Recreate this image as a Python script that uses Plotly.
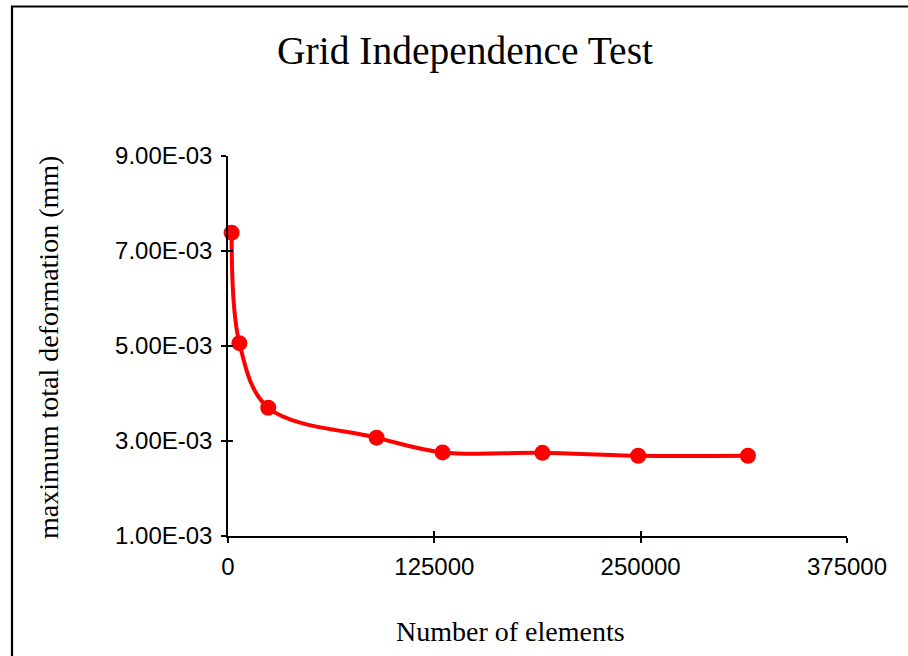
import plotly.graph_objects as go

# Data
elements = [2200, 6900, 24400, 90000, 130000, 190500, 248500, 315000]
max_deformation = [7.385e-3, 5.06e-3, 3.70e-3, 3.07e-3, 2.76e-3, 2.75e-3, 2.69e-3, 2.69e-3]
x_ticks = [0, 125000, 250000, 375000]
y_ticks = [1.0e-3, 3.0e-3, 5.0e-3, 7.0e-3, 9.0e-3]
y_tick_text = ["1.00E-03", "3.00E-03", "5.00E-03", "7.00E-03", "9.00E-03"]

fig = go.Figure()
fig.add_trace(go.Scatter(
    x=elements, y=max_deformation, mode="lines+markers",
    line=dict(color="#ff0000", width=4, shape="spline", smoothing=1),
    marker=dict(color="#ff0000", size=16),
    showlegend=False, cliponaxis=False,
))
# invisible trace for crossing ticks
fig.add_trace(go.Scatter(x=[None], y=[None], xaxis="x2", yaxis="y2", showlegend=False))

tick_font = dict(family="Liberation Sans, Arial, sans-serif", size=24, color="#000000")
serif = "Liberation Serif, Times New Roman, serif"

L, T = 228, 156
W_PLOT, H_PLOT = 619, 380

def px(xpage):
    return (xpage - L) / W_PLOT

def py(ypage):
    return (T + H_PLOT - ypage) / H_PLOT

fig.update_layout(
    width=908, height=656,
    margin=dict(l=L, r=908 - L - W_PLOT, t=T, b=656 - T - H_PLOT),
    paper_bgcolor="white", plot_bgcolor="white",
    title=dict(text="Grid Independence Test", x=465 / 908, xref="container", xanchor="center",
               y=1 - 50 / 656, yref="container", yanchor="middle",
               font=dict(family=serif, size=39.5, color="#000000")),
    xaxis=dict(range=[0, 375000], tickvals=x_ticks, ticktext=[str(v) for v in x_ticks],
               showgrid=False, zeroline=False, showline=True, linecolor="#000000", linewidth=1.5,
               ticks="outside", ticklen=5, tickwidth=1.5, tickcolor="#000000",
               tickfont=tick_font, ticklabelstandoff=3),
    yaxis=dict(range=[1.0e-3, 9.0e-3], tickvals=y_ticks, ticktext=y_tick_text,
               showgrid=False, zeroline=False, showline=True, linecolor="#000000", linewidth=1.5,
               ticks="outside", ticklen=5, tickwidth=1.5, tickcolor="#000000",
               tickfont=tick_font, ticklabelstandoff=4),
    xaxis2=dict(range=[0, 375000], tickvals=x_ticks, overlaying="x", anchor="y", side="bottom",
                showticklabels=False, showgrid=False, zeroline=False, showline=False,
                ticks="inside", ticklen=5, tickwidth=1.5, tickcolor="#000000"),
    yaxis2=dict(range=[1.0e-3, 9.0e-3], tickvals=y_ticks, overlaying="y", anchor="x", side="left",
                showticklabels=False, showgrid=False, zeroline=False, showline=False,
                ticks="inside", ticklen=5, tickwidth=1.5, tickcolor="#000000"),
    annotations=[
        dict(text="Number of elements", xref="paper", yref="paper",
             x=px(510.5), y=py(631), xanchor="center", yanchor="middle",
             showarrow=False, font=dict(family=serif, size=28, color="#000000")),
        dict(text="maximum total deformation (mm)", xref="paper", yref="paper",
             x=px(48), y=py(348), xanchor="center", yanchor="middle",
             textangle=-90, showarrow=False, font=dict(family=serif, size=28, color="#000000")),
    ],
    shapes=[
        dict(type="path", xref="paper", yref="paper",
             path=f"M {px(12)} {py(670)} L {px(12)} {py(6.5)} L {px(930)} {py(6.5)}",
             line=dict(color="#000000", width=2.2)),
    ],
)

fig.write_html("out.html", config={"displayModeBar": False},
               post_script="document.body.style.margin='0px';")
